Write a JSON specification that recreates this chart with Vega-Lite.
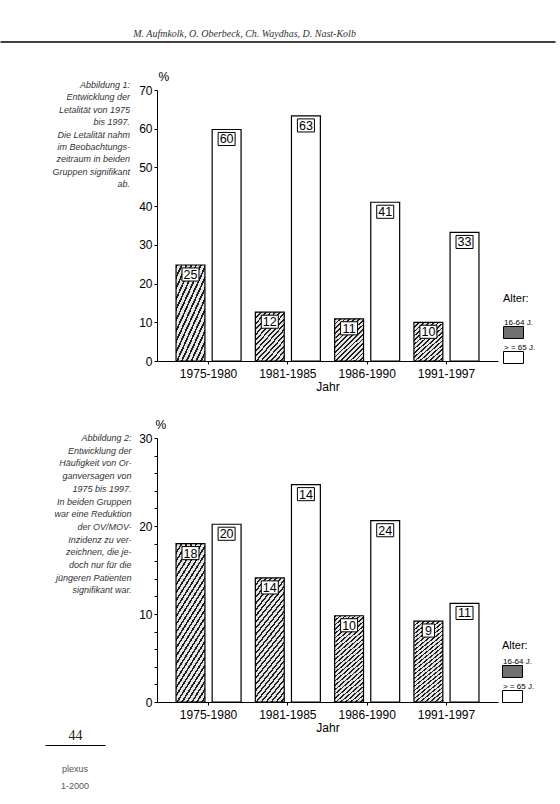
{
 "$schema": "https://vega.github.io/schema/vega-lite/v6.json",
 "background": "white",
 "padding": {"left": 0, "top": 0, "right": 0, "bottom": 0},
 "config": {
  "view": {"stroke": null},
  "font": "Liberation Sans",
  "axis": {"grid": false, "domainColor": "black", "tickColor": "black", "labelColor": "black", "titleColor": "black", "labelFont": "Liberation Sans", "titleFont": "Liberation Sans", "titleFontWeight": "normal"}
 },
 "spacing": 77,
 "bounds": "flush",
 "resolve": {"scale": {"x": "independent", "y": "independent", "fill": "independent", "xOffset": "independent"}, "legend": {"fill": "independent"}},
 "vconcat": [
  {
   "width": 555, "height": 13,
   "data": {"values": [{}]},
   "mark": {"type": "point", "opacity": 0},
   "encoding": {"x": {"datum": 0, "type": "quantitative", "scale": {"domain": [0, 1]}, "axis": {"orient": "top", "position": -157, "offset": -41.5, "ticks": false, "labels": false, "domainWidth": 1.3, "title": "M. Aufmkolk, O. Oberbeck, Ch. Waydhas, D. Nast-Kolb", "titleFont": "Liberation Serif", "titleFontStyle": "italic", "titleFontSize": 10, "titleColor": "#333", "titleX": 244, "titlePadding": 3}}}
  },
  {
   "width": 341, "height": 271,
   "title": {"text": ["Abbildung 1:", "Entwicklung der", "Letalität von 1975", "bis 1997.", "Die Letalität nahm", "im Beobachtungs-", "zeitraum in beiden", "Gruppen signifikant", "ab."], "orient": "left", "angle": 0, "anchor": "end", "align": "right", "baseline": "top", "offset": 10, "dx": 79, "dy": 11, "font": "Liberation Sans", "fontStyle": "italic", "fontWeight": "normal", "fontSize": 9, "lineHeight": 12.4, "color": "#333"},
   "data": {"values": [
    {"Jahr": "1975-1980", "Alter": "16-64 J.", "Wert": 24.8, "Label": "25"},
    {"Jahr": "1975-1980", "Alter": "> = 65 J.", "Wert": 59.8, "Label": "60"},
    {"Jahr": "1981-1985", "Alter": "16-64 J.", "Wert": 12.6, "Label": "12"},
    {"Jahr": "1981-1985", "Alter": "> = 65 J.", "Wert": 63.3, "Label": "63"},
    {"Jahr": "1986-1990", "Alter": "16-64 J.", "Wert": 10.9, "Label": "11"},
    {"Jahr": "1986-1990", "Alter": "> = 65 J.", "Wert": 41, "Label": "41"},
    {"Jahr": "1991-1997", "Alter": "16-64 J.", "Wert": 10, "Label": "10"},
    {"Jahr": "1991-1997", "Alter": "> = 65 J.", "Wert": 33.2, "Label": "33"}
   ]},
   "encoding": {
    "x": {"field": "Jahr", "type": "nominal", "sort": null, "scale": {"paddingInner": 0.18, "paddingOuter": 0.24}, "axis": {"labelAngle": 0, "tickSize": 3, "labelPadding": 4, "labelFontSize": 12, "title": "Jahr", "titleFontSize": 12, "titlePadding": 2}},
    "xOffset": {"field": "Alter", "type": "nominal", "sort": null, "scale": {"paddingInner": 0.2}},
    "y": {"field": "Wert", "type": "quantitative", "scale": {"domain": [0, 70]}, "axis": {"values": [0, 10, 20, 30, 40, 50, 60, 70], "tickSize": 3, "labelPadding": 2, "labelFontSize": 12, "title": "%", "titleAngle": 0, "titleX": 1, "titleY": -7, "titleAlign": "left", "titleBaseline": "bottom", "titleFontSize": 12}}
   },
   "layer": [
    {"mark": {"type": "point", "filled": true, "opacity": 0},
     "encoding": {"fill": {"field": "Alter", "type": "nominal", "sort": null,
      "scale": {"domain": ["16-64 J.", "> = 65 J."], "range": ["#707070", "white"]},
      "legend": {"orient": "none", "legendX": 346, "legendY": 203, "padding": 0, "title": "Alter:", "titleFontSize": 11, "titleFontWeight": "normal", "titleColor": "black", "titlePadding": 12, "labelFontSize": 8, "labelColor": "black", "labelAlign": "left", "labelBaseline": "bottom", "labelOffset": -20, "symbolType": "M-1,0H1V1.2H-1Z", "symbolSize": 400, "symbolOpacity": 1, "symbolStrokeColor": "black", "symbolStrokeWidth": 1, "rowPadding": -4}}}},
    {"mark": {"type": "bar", "stroke": "black", "strokeWidth": 1.2},
     "encoding": {"fill": {"condition": {"test": "datum.Alter === '16-64 J.'", "value":
       {"gradient": "linear", "x1": 0, "y1": 0, "x2": 0.77, "y2": 1.155, "stops": [
        {"offset": 0, "color": "#1e1e1e"}, {"offset": 0.025, "color": "#1e1e1e"}, {"offset": 0.025, "color": "#e6e6e6"}, {"offset": 0.0667, "color": "#e6e6e6"},
        {"offset": 0.0667, "color": "#1e1e1e"}, {"offset": 0.0917, "color": "#1e1e1e"}, {"offset": 0.0917, "color": "#e6e6e6"}, {"offset": 0.1333, "color": "#e6e6e6"},
        {"offset": 0.1333, "color": "#1e1e1e"}, {"offset": 0.1583, "color": "#1e1e1e"}, {"offset": 0.1583, "color": "#e6e6e6"}, {"offset": 0.2, "color": "#e6e6e6"},
        {"offset": 0.2, "color": "#1e1e1e"}, {"offset": 0.225, "color": "#1e1e1e"}, {"offset": 0.225, "color": "#e6e6e6"}, {"offset": 0.2667, "color": "#e6e6e6"},
        {"offset": 0.2667, "color": "#1e1e1e"}, {"offset": 0.2917, "color": "#1e1e1e"}, {"offset": 0.2917, "color": "#e6e6e6"}, {"offset": 0.3333, "color": "#e6e6e6"},
        {"offset": 0.3333, "color": "#1e1e1e"}, {"offset": 0.3583, "color": "#1e1e1e"}, {"offset": 0.3583, "color": "#e6e6e6"}, {"offset": 0.4, "color": "#e6e6e6"},
        {"offset": 0.4, "color": "#1e1e1e"}, {"offset": 0.425, "color": "#1e1e1e"}, {"offset": 0.425, "color": "#e6e6e6"}, {"offset": 0.4667, "color": "#e6e6e6"},
        {"offset": 0.4667, "color": "#1e1e1e"}, {"offset": 0.4917, "color": "#1e1e1e"}, {"offset": 0.4917, "color": "#e6e6e6"}, {"offset": 0.5333, "color": "#e6e6e6"},
        {"offset": 0.5333, "color": "#1e1e1e"}, {"offset": 0.5583, "color": "#1e1e1e"}, {"offset": 0.5583, "color": "#e6e6e6"}, {"offset": 0.6, "color": "#e6e6e6"},
        {"offset": 0.6, "color": "#1e1e1e"}, {"offset": 0.625, "color": "#1e1e1e"}, {"offset": 0.625, "color": "#e6e6e6"}, {"offset": 0.6667, "color": "#e6e6e6"},
        {"offset": 0.6667, "color": "#1e1e1e"}, {"offset": 0.6917, "color": "#1e1e1e"}, {"offset": 0.6917, "color": "#e6e6e6"}, {"offset": 0.7333, "color": "#e6e6e6"},
        {"offset": 0.7333, "color": "#1e1e1e"}, {"offset": 0.7583, "color": "#1e1e1e"}, {"offset": 0.7583, "color": "#e6e6e6"}, {"offset": 0.8, "color": "#e6e6e6"},
        {"offset": 0.8, "color": "#1e1e1e"}, {"offset": 0.825, "color": "#1e1e1e"}, {"offset": 0.825, "color": "#e6e6e6"}, {"offset": 0.8667, "color": "#e6e6e6"},
        {"offset": 0.8667, "color": "#1e1e1e"}, {"offset": 0.8917, "color": "#1e1e1e"}, {"offset": 0.8917, "color": "#e6e6e6"}, {"offset": 0.9333, "color": "#e6e6e6"},
        {"offset": 0.9333, "color": "#1e1e1e"}, {"offset": 0.9583, "color": "#1e1e1e"}, {"offset": 0.9583, "color": "#e6e6e6"}, {"offset": 1, "color": "#e6e6e6"}
       ]}}, "value": "white"}}},
    {"mark": {"type": "point", "filled": true, "fill": "white", "stroke": "black", "strokeWidth": 1, "opacity": 1, "size": 289, "yOffset": 9.5},
     "encoding": {"shape": {"condition": {"test": "length(datum.Label) < 2", "value": "M-0.72,-0.77H0.72V0.77H-0.72Z"}, "value": "M-1,-0.77H1V0.77H-1Z"}}},
    {"mark": {"type": "text", "fontSize": 12.5, "baseline": "middle", "yOffset": 10, "color": "black"},
     "encoding": {"text": {"field": "Label"}}}
   ]
  },
  {
   "width": 341, "height": 264,
   "title": {"text": ["Abbildung 2:", "Entwicklung der", "Häufigkeit von Or-", "ganversagen von", "1975 bis 1997.", "In beiden Gruppen", "war eine Reduktion", "der OV/MOV-", "Inzidenz zu ver-", "zeichnen, die je-", "doch nur für die", "jüngeren Patienten", "signifikant war."], "orient": "left", "angle": 0, "anchor": "end", "align": "right", "baseline": "top", "offset": 10, "dx": 80, "dy": 16, "font": "Liberation Sans", "fontStyle": "italic", "fontWeight": "normal", "fontSize": 9, "lineHeight": 12.7, "color": "#333"},
   "data": {"values": [
    {"Jahr": "1975-1980", "Alter": "16-64 J.", "Wert": 18, "Label": "18"},
    {"Jahr": "1975-1980", "Alter": "> = 65 J.", "Wert": 20.2, "Label": "20"},
    {"Jahr": "1981-1985", "Alter": "16-64 J.", "Wert": 14.1, "Label": "14"},
    {"Jahr": "1981-1985", "Alter": "> = 65 J.", "Wert": 24.7, "Label": "14"},
    {"Jahr": "1986-1990", "Alter": "16-64 J.", "Wert": 9.8, "Label": "10"},
    {"Jahr": "1986-1990", "Alter": "> = 65 J.", "Wert": 20.6, "Label": "24"},
    {"Jahr": "1991-1997", "Alter": "16-64 J.", "Wert": 9.2, "Label": "9"},
    {"Jahr": "1991-1997", "Alter": "> = 65 J.", "Wert": 11.2, "Label": "11"}
   ]},
   "encoding": {
    "x": {"field": "Jahr", "type": "nominal", "sort": null, "scale": {"paddingInner": 0.18, "paddingOuter": 0.24}, "axis": {"labelAngle": 0, "tickSize": 3, "labelPadding": 4, "labelFontSize": 12, "title": "Jahr", "titleFontSize": 12, "titlePadding": 2}},
    "xOffset": {"field": "Alter", "type": "nominal", "sort": null, "scale": {"paddingInner": 0.2}},
    "y": {"field": "Wert", "type": "quantitative", "scale": {"domain": [0, 30]}, "axis": {"values": [0, 2, 4, 6, 8, 10, 12, 14, 16, 18, 20, 22, 24, 26, 28, 30], "labelExpr": "datum.value % 10 === 0 ? datum.label : ''", "tickSize": 3, "labelPadding": 2, "labelFontSize": 12, "title": "%", "titleAngle": 0, "titleX": -2, "titleY": -7, "titleAlign": "left", "titleBaseline": "bottom", "titleFontSize": 12}}
   },
   "layer": [
    {"mark": {"type": "point", "filled": true, "opacity": 0},
     "encoding": {"fill": {"field": "Alter", "type": "nominal", "sort": null,
      "scale": {"domain": ["16-64 J.", "> = 65 J."], "range": ["#707070", "white"]},
      "legend": {"orient": "none", "legendX": 345, "legendY": 202, "padding": 0, "title": "Alter:", "titleFontSize": 11, "titleFontWeight": "normal", "titleColor": "black", "titlePadding": 4, "labelFontSize": 8, "labelColor": "black", "labelAlign": "left", "labelBaseline": "bottom", "labelOffset": -20, "symbolType": "M-1,0H1V1.2H-1Z", "symbolSize": 400, "symbolOpacity": 1, "symbolStrokeColor": "black", "symbolStrokeWidth": 1, "rowPadding": 0}}}},
    {"mark": {"type": "bar", "stroke": "black", "strokeWidth": 1.2},
     "encoding": {"fill": {"condition": {"test": "datum.Alter === '16-64 J.'", "value":
       {"gradient": "linear", "x1": 0, "y1": 0, "x2": 0.35, "y2": 1.2, "stops": [
        {"offset": 0, "color": "#1e1e1e"}, {"offset": 0.014, "color": "#1e1e1e"}, {"offset": 0.014, "color": "#e6e6e6"}, {"offset": 0.0385, "color": "#e6e6e6"},
        {"offset": 0.0385, "color": "#1e1e1e"}, {"offset": 0.0525, "color": "#1e1e1e"}, {"offset": 0.0525, "color": "#e6e6e6"}, {"offset": 0.0769, "color": "#e6e6e6"},
        {"offset": 0.0769, "color": "#1e1e1e"}, {"offset": 0.0909, "color": "#1e1e1e"}, {"offset": 0.0909, "color": "#e6e6e6"}, {"offset": 0.1154, "color": "#e6e6e6"},
        {"offset": 0.1154, "color": "#1e1e1e"}, {"offset": 0.1294, "color": "#1e1e1e"}, {"offset": 0.1294, "color": "#e6e6e6"}, {"offset": 0.1538, "color": "#e6e6e6"},
        {"offset": 0.1538, "color": "#1e1e1e"}, {"offset": 0.1678, "color": "#1e1e1e"}, {"offset": 0.1678, "color": "#e6e6e6"}, {"offset": 0.1923, "color": "#e6e6e6"},
        {"offset": 0.1923, "color": "#1e1e1e"}, {"offset": 0.2063, "color": "#1e1e1e"}, {"offset": 0.2063, "color": "#e6e6e6"}, {"offset": 0.2308, "color": "#e6e6e6"},
        {"offset": 0.2308, "color": "#1e1e1e"}, {"offset": 0.2448, "color": "#1e1e1e"}, {"offset": 0.2448, "color": "#e6e6e6"}, {"offset": 0.2692, "color": "#e6e6e6"},
        {"offset": 0.2692, "color": "#1e1e1e"}, {"offset": 0.2832, "color": "#1e1e1e"}, {"offset": 0.2832, "color": "#e6e6e6"}, {"offset": 0.3077, "color": "#e6e6e6"},
        {"offset": 0.3077, "color": "#1e1e1e"}, {"offset": 0.3217, "color": "#1e1e1e"}, {"offset": 0.3217, "color": "#e6e6e6"}, {"offset": 0.3462, "color": "#e6e6e6"},
        {"offset": 0.3462, "color": "#1e1e1e"}, {"offset": 0.3602, "color": "#1e1e1e"}, {"offset": 0.3602, "color": "#e6e6e6"}, {"offset": 0.3846, "color": "#e6e6e6"},
        {"offset": 0.3846, "color": "#1e1e1e"}, {"offset": 0.3986, "color": "#1e1e1e"}, {"offset": 0.3986, "color": "#e6e6e6"}, {"offset": 0.4231, "color": "#e6e6e6"},
        {"offset": 0.4231, "color": "#1e1e1e"}, {"offset": 0.4371, "color": "#1e1e1e"}, {"offset": 0.4371, "color": "#e6e6e6"}, {"offset": 0.4615, "color": "#e6e6e6"},
        {"offset": 0.4615, "color": "#1e1e1e"}, {"offset": 0.4755, "color": "#1e1e1e"}, {"offset": 0.4755, "color": "#e6e6e6"}, {"offset": 0.5, "color": "#e6e6e6"},
        {"offset": 0.5, "color": "#1e1e1e"}, {"offset": 0.514, "color": "#1e1e1e"}, {"offset": 0.514, "color": "#e6e6e6"}, {"offset": 0.5385, "color": "#e6e6e6"},
        {"offset": 0.5385, "color": "#1e1e1e"}, {"offset": 0.5525, "color": "#1e1e1e"}, {"offset": 0.5525, "color": "#e6e6e6"}, {"offset": 0.5769, "color": "#e6e6e6"},
        {"offset": 0.5769, "color": "#1e1e1e"}, {"offset": 0.5909, "color": "#1e1e1e"}, {"offset": 0.5909, "color": "#e6e6e6"}, {"offset": 0.6154, "color": "#e6e6e6"},
        {"offset": 0.6154, "color": "#1e1e1e"}, {"offset": 0.6294, "color": "#1e1e1e"}, {"offset": 0.6294, "color": "#e6e6e6"}, {"offset": 0.6538, "color": "#e6e6e6"},
        {"offset": 0.6538, "color": "#1e1e1e"}, {"offset": 0.6678, "color": "#1e1e1e"}, {"offset": 0.6678, "color": "#e6e6e6"}, {"offset": 0.6923, "color": "#e6e6e6"},
        {"offset": 0.6923, "color": "#1e1e1e"}, {"offset": 0.7063, "color": "#1e1e1e"}, {"offset": 0.7063, "color": "#e6e6e6"}, {"offset": 0.7308, "color": "#e6e6e6"},
        {"offset": 0.7308, "color": "#1e1e1e"}, {"offset": 0.7448, "color": "#1e1e1e"}, {"offset": 0.7448, "color": "#e6e6e6"}, {"offset": 0.7692, "color": "#e6e6e6"},
        {"offset": 0.7692, "color": "#1e1e1e"}, {"offset": 0.7832, "color": "#1e1e1e"}, {"offset": 0.7832, "color": "#e6e6e6"}, {"offset": 0.8077, "color": "#e6e6e6"},
        {"offset": 0.8077, "color": "#1e1e1e"}, {"offset": 0.8217, "color": "#1e1e1e"}, {"offset": 0.8217, "color": "#e6e6e6"}, {"offset": 0.8462, "color": "#e6e6e6"},
        {"offset": 0.8462, "color": "#1e1e1e"}, {"offset": 0.8602, "color": "#1e1e1e"}, {"offset": 0.8602, "color": "#e6e6e6"}, {"offset": 0.8846, "color": "#e6e6e6"},
        {"offset": 0.8846, "color": "#1e1e1e"}, {"offset": 0.8986, "color": "#1e1e1e"}, {"offset": 0.8986, "color": "#e6e6e6"}, {"offset": 0.9231, "color": "#e6e6e6"},
        {"offset": 0.9231, "color": "#1e1e1e"}, {"offset": 0.9371, "color": "#1e1e1e"}, {"offset": 0.9371, "color": "#e6e6e6"}, {"offset": 0.9615, "color": "#e6e6e6"},
        {"offset": 0.9615, "color": "#1e1e1e"}, {"offset": 0.9755, "color": "#1e1e1e"}, {"offset": 0.9755, "color": "#e6e6e6"}, {"offset": 1, "color": "#e6e6e6"}
       ]}}, "value": "white"}}},
    {"mark": {"type": "point", "filled": true, "fill": "white", "stroke": "black", "strokeWidth": 1, "opacity": 1, "size": 289, "yOffset": 9.5},
     "encoding": {"shape": {"condition": {"test": "length(datum.Label) < 2", "value": "M-0.72,-0.77H0.72V0.77H-0.72Z"}, "value": "M-1,-0.77H1V0.77H-1Z"}}},
    {"mark": {"type": "text", "fontSize": 12.5, "baseline": "middle", "yOffset": 10, "color": "black"},
     "encoding": {"text": {"field": "Label"}}}
   ]
  },
  {
   "width": 60, "height": 1,
   "title": {"text": ["plexus", "1-2000"], "orient": "bottom", "frame": "group", "anchor": "middle", "offset": 0, "dx": -112, "dy": -17, "font": "Liberation Sans", "fontSize": 9, "fontWeight": "normal", "color": "#555", "lineHeight": 17, "baseline": "top"},
   "data": {"values": [{}]},
   "mark": {"type": "point", "opacity": 0},
   "encoding": {"x": {"datum": 0, "type": "quantitative", "scale": {"domain": [0, 1]}, "axis": {"orient": "top", "position": -112, "offset": 34, "ticks": false, "labels": false, "domainWidth": 1.2, "title": "44", "titleFont": "Liberation Serif", "titleFontSize": 14, "titleColor": "#222", "titlePadding": 3}}}
  }
 ]
}
